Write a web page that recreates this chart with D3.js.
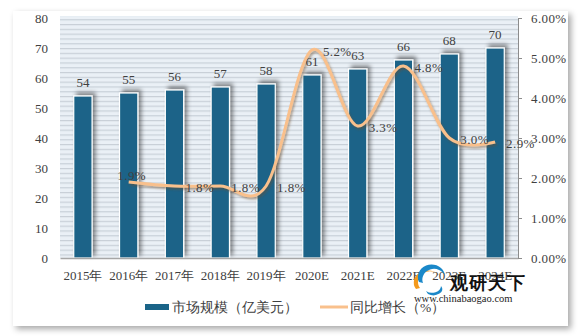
<!DOCTYPE html>
<html><head><meta charset="utf-8">
<script src="https://cdn.jsdelivr.net/npm/d3@7"></script>
<style>
html,body{margin:0;padding:0;background:#fff;}
svg{display:block;}
text{font-family:"SimSun","Liberation Serif",serif;fill:#404040;}
</style></head>
<body>
<script>
const categories = ["2015年","2016年","2017年","2018年","2019年","2020E","2021E","2022E","2023E","2024E"];
const marketSize = [54,55,56,57,58,61,63,66,68,70];
const growthYears = ["2016年","2017年","2018年","2019年","2020E","2021E","2022E","2023E","2024E"];
const growthRate = [0.019,0.018,0.018,0.018,0.052,0.033,0.048,0.030,0.029];
const growthLabels = ["1.9%","1.8%","1.8%","1.8%","5.2%","3.3%","4.8%","3.0%","2.9%"];
const leftTicks = [0,10,20,30,40,50,60,70,80];
const rightTicks = [0,0.01,0.02,0.03,0.04,0.05,0.06];
const legendLabels = ["市场规模（亿美元）","同比增长（%）"];

const W=583,H=336;
const svg=d3.select("body").append("svg").attr("width",W).attr("height",H);
const defs=svg.append("defs");
const f1=defs.append("filter").attr("id","panelShadow").attr("x","-5%").attr("y","-5%").attr("width","110%").attr("height","115%");
f1.append("feDropShadow").attr("dx",3).attr("dy",3).attr("stdDeviation",3).attr("flood-color","#000").attr("flood-opacity",0.35);
const f2=defs.append("filter").attr("id","barShadow").attr("x","-60%").attr("y","-20%").attr("width","220%").attr("height","140%");
f2.append("feDropShadow").attr("dx",3).attr("dy",-3).attr("stdDeviation",2).attr("flood-color","#000").attr("flood-opacity",0.45);
const f3=defs.append("filter").attr("id","lineShadow").attr("x","-10%").attr("y","-20%").attr("width","120%").attr("height","140%");
f3.append("feDropShadow").attr("dx",1.5).attr("dy",2).attr("stdDeviation",1.2).attr("flood-color","#6b4a2a").attr("flood-opacity",0.5);
const pat=defs.append("pattern").attr("id","stripes").attr("patternUnits","userSpaceOnUse").attr("width",10).attr("height",4.8);
pat.append("rect").attr("width",10).attr("height",4.8).attr("fill","#eaf0f6");
pat.append("rect").attr("y",0).attr("width",10).attr("height",1.2).attr("fill","#c8d0d8");

// outer panel
svg.append("rect").attr("x",13).attr("y",11).attr("width",555).attr("height",315).attr("fill","#fff").attr("filter","url(#panelShadow)");

const x0=60,x1=518,yTop=18,yBot=258;
const x=d3.scaleBand().domain(categories).range([x0,x1]).paddingInner(0.6).paddingOuter(0.3);
const yL=d3.scaleLinear().domain([0,80]).range([yBot,yTop]);
const yR=d3.scaleLinear().domain([0,0.06]).range([yBot,yTop]);
const cx=d=>x(d)+x.bandwidth()/2;

// plot background
svg.append("rect").attr("x",x0).attr("y",16).attr("width",x1-x0).attr("height",yBot-16).attr("fill","url(#stripes)");

// bars
svg.append("g").selectAll("rect").data(categories).join("rect")
  .attr("x",d=>x(d)).attr("y",(d,i)=>yL(marketSize[i]))
  .attr("width",x.bandwidth()).attr("height",(d,i)=>yBot-yL(marketSize[i]))
  .attr("fill","#1a6488").attr("stroke","#fff").attr("stroke-width",1.2)
  .attr("filter","url(#barShadow)");

// bar labels
svg.append("g").selectAll("text").data(categories).join("text")
  .attr("x",d=>cx(d)).attr("y",(d,i)=>yL(marketSize[i])-9)
  .attr("text-anchor","middle").attr("font-size",13).text((d,i)=>marketSize[i]);

// axes
const gB=svg.append("g").attr("transform",`translate(0,${yBot})`)
  .call(d3.axisBottom(x).tickSize(0).tickPadding(13));
gB.select(".domain").attr("stroke","#a6a6a6").attr("stroke-width",1.5);
gB.selectAll("text").attr("font-size",13).attr("fill","#404040").attr("font-family","SimSun, 'Liberation Serif', serif");

const gL=svg.append("g").attr("transform",`translate(${x0},0)`)
  .call(d3.axisLeft(yL).tickValues(leftTicks).tickSize(0).tickPadding(12));
gL.select(".domain").remove();
gL.selectAll("text").attr("font-size",13).attr("fill","#404040").attr("font-family","SimSun, 'Liberation Serif', serif");

const gR=svg.append("g").attr("transform",`translate(${x1},0)`)
  .call(d3.axisRight(yR).tickValues(rightTicks).tickSize(4).tickPadding(9).tickFormat(d3.format(".2%")));
gR.select(".domain").attr("stroke","#8c8c8c");
gR.selectAll("line").attr("stroke","#8c8c8c");
gR.selectAll("text").attr("font-size",13).attr("fill","#404040").attr("letter-spacing",0.4).attr("font-family","SimSun, 'Liberation Serif', serif");

// growth line
const line=d3.line().x(d=>cx(d.c)).y(d=>yR(d.v)).curve(d3.curveCatmullRom.alpha(0));
const pts=growthYears.map((c,i)=>({c,v:growthRate[i],l:growthLabels[i]}));
svg.append("path").datum(pts).attr("d",line).attr("fill","none")
  .attr("stroke","#f9c08c").attr("stroke-width",3).attr("filter","url(#lineShadow)");

// growth labels
svg.append("g").selectAll("text").data(pts).join("text")
  .attr("x",(d,i)=>i===0?cx(d.c)+3:cx(d.c)+11)
  .attr("y",(d,i)=>i===0?yR(d.v)-2:yR(d.v)+5.5)
  .attr("text-anchor",(d,i)=>i===0?"middle":"start")
  .attr("font-size",13).attr("letter-spacing",0.4).text(d=>d.l);

// legend
const lg=svg.append("g");
lg.append("rect").attr("x",145).attr("y",304).attr("width",24).attr("height",6).attr("fill","#1a6488");
lg.append("text").attr("x",172).attr("y",312).attr("font-size",13.5)
  .attr("font-family","'Noto Sans CJK SC',sans-serif").text(legendLabels[0]);
lg.append("line").attr("x1",320).attr("x2",348).attr("y1",307).attr("y2",307).attr("stroke","#f9c08c").attr("stroke-width",3);
lg.append("text").attr("x",350).attr("y",312).attr("font-size",13.5)
  .attr("font-family","'Noto Sans CJK SC',sans-serif").text(legendLabels[1]);

// watermark
const wm=svg.append("g");
wm.append("path").attr("d","M416,289 A13,11 0 0 1 440,276 A10,9 0 0 0 420,288 Z").attr("fill","#f39a1e");
wm.append("path").attr("d","M419,282 A13,12 0 0 1 444,272 L445,276 A11,10 0 0 0 423,283 Z").attr("fill","#1a88c9");
wm.append("path").attr("d","M426,291 A9,7 0 0 0 441,286 A9,6 0 0 1 428,294 Z").attr("fill","#1a88c9");
wm.append("text").attr("x",450).attr("y",289).attr("font-size",18).attr("font-weight","bold")
  .attr("font-family","'Noto Sans CJK SC',sans-serif").style("fill","#111").attr("letter-spacing",1).text("观研天下");
wm.append("text").attr("x",414).attr("y",302).attr("font-size",10.5)
  .attr("font-family","'Liberation Sans',Arial,sans-serif").style("fill","#222").text("www.chinabaogao.com");
</script>
</body></html>
